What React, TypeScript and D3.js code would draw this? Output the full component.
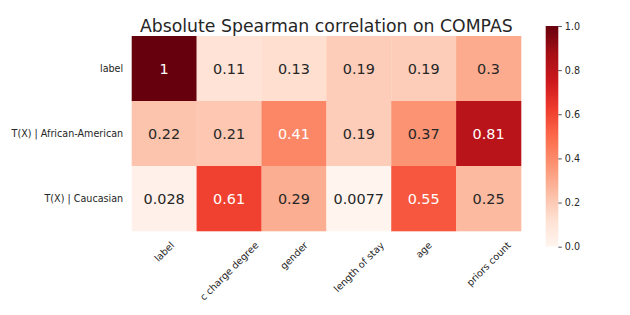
import React, { useEffect, useRef } from 'react';
import * as d3 from 'd3';

const rowLabels = ['label', 'T(X) | African-American', 'T(X) | Caucasian'];
const colLabels = ['label', 'c charge degree', 'gender', 'length of stay', 'age', 'priors count'];
const labelRow = [1, 0.11, 0.13, 0.19, 0.19, 0.3];
const africanAmericanRow = [0.22, 0.21, 0.41, 0.19, 0.37, 0.81];
const caucasianRow = [0.028, 0.61, 0.29, 0.0077, 0.55, 0.25];
const colorbarTicks = [0, 0.2, 0.4, 0.6, 0.8, 1.0];
const redsStops = ['#fff5f0', '#fee0d2', '#fcbba1', '#fc9272', '#fb6a4a', '#ef3b2c', '#cb181d', '#a50f15', '#67000d'];
const title = 'Absolute Spearman correlation on COMPAS';

const W = 630;
const H = 315;
const FONT = 'DejaVu Sans, sans-serif';
const TEXT = '#262626';

function luminance(c: string) {
  const rgb = d3.rgb(c);
  const f = (v: number) => {
    const s = v / 255;
    return s <= 0.03928 ? s / 12.92 : Math.pow((s + 0.055) / 1.055, 2.4);
  };
  return 0.2126 * f(rgb.r) + 0.7152 * f(rgb.g) + 0.0722 * f(rgb.b);
}

export default function App() {
  const ref = useRef<SVGSVGElement>(null);

  useEffect(() => {
    const svg = d3.select(ref.current);
    svg.selectAll('*').remove();
    const matrix = [labelRow, africanAmericanRow, caucasianRow];

    const left = 131.7, right = 521, top = 36, bottom = 231;
    const x = d3.scaleBand<string>().domain(colLabels).range([left, right]);
    const y = d3.scaleBand<string>().domain(rowLabels).range([top, bottom]);
    const color = d3
      .scaleLinear<string>()
      .domain(redsStops.map((_, i) => i / (redsStops.length - 1)))
      .range(redsStops)
      .interpolate(d3.interpolateRgb)
      .clamp(true);
    const fmt = d3.format('.2~g');

    const cells = matrix.flatMap((row, ri) =>
      row.map((v, ci) => ({ v, r: rowLabels[ri], c: colLabels[ci] }))
    );

    svg
      .append('g')
      .selectAll('rect')
      .data(cells)
      .join('rect')
      .attr('x', (d) => x(d.c)!)
      .attr('y', (d) => y(d.r)!)
      .attr('width', x.bandwidth() + 0.3)
      .attr('height', y.bandwidth() + 0.3)
      .attr('fill', (d) => color(d.v));

    svg
      .append('g')
      .selectAll('text')
      .data(cells)
      .join('text')
      .attr('x', (d) => x(d.c)! + x.bandwidth() / 2)
      .attr('y', (d) => y(d.r)! + y.bandwidth() / 2)
      .attr('text-anchor', 'middle')
      .attr('dominant-baseline', 'central')
      .attr('font-family', FONT)
      .attr('font-size', 14.4)
      .attr('fill', (d) => (luminance(color(d.v)) > 0.408 ? TEXT : '#ffffff'))
      .text((d) => fmt(d.v));

    // y tick labels
    svg
      .append('g')
      .selectAll('text')
      .data(rowLabels)
      .join('text')
      .attr('x', left - 8.5)
      .attr('y', (d) => y(d)! + y.bandwidth() / 2)
      .attr('text-anchor', 'end')
      .attr('dominant-baseline', 'central')
      .attr('font-family', FONT)
      .attr('font-size', 9.6)
      .attr('fill', TEXT)
      .text((d) => d);

    // x tick labels rotated 45, bbox centered on tick, top aligned
    const fs = 9.6;
    const h = fs * 1.16;
    const labelTop = bottom + 8.5;
    const xg = svg.append('g');
    colLabels.forEach((lab) => {
      const t = xg
        .append('text')
        .attr('font-family', FONT)
        .attr('font-size', fs)
        .attr('fill', TEXT)
        .attr('text-anchor', 'middle')
        .attr('dominant-baseline', 'central')
        .text(lab);
      const L = (t.node() as SVGTextElement).getComputedTextLength();
      const cx = x(lab)! + x.bandwidth() / 2;
      const cy = labelTop + (Math.SQRT1_2 * (L + h)) / 2;
      t.attr('transform', `translate(${cx},${cy}) rotate(-45)`);
    });

    // title
    svg
      .append('text')
      .attr('x', (left + right) / 2)
      .attr('y', 31.5)
      .attr('text-anchor', 'middle')
      .attr('font-family', FONT)
      .attr('font-size', 17.3)
      .attr('fill', TEXT)
      .text(title);

    // colorbar
    const cbX = 545.7, cbW = 12.6, cbTop = 26, cbBottom = 246.7;
    const defs = svg.append('defs');
    const grad = defs
      .append('linearGradient')
      .attr('id', 'cbgrad')
      .attr('x1', 0)
      .attr('y1', 1)
      .attr('x2', 0)
      .attr('y2', 0);
    redsStops.forEach((c, i) => {
      grad
        .append('stop')
        .attr('offset', `${(i / (redsStops.length - 1)) * 100}%`)
        .attr('stop-color', c);
    });
    svg
      .append('rect')
      .attr('x', cbX)
      .attr('y', cbTop)
      .attr('width', cbW)
      .attr('height', cbBottom - cbTop)
      .attr('fill', 'url(#cbgrad)');
    const cy = d3.scaleLinear().domain([0, 1]).range([cbBottom, cbTop]);
    const axis = d3
      .axisRight(cy)
      .tickValues(colorbarTicks)
      .tickFormat(d3.format('.1f') as any)
      .tickSize(3.5)
      .tickPadding(3);
    const ag = svg
      .append('g')
      .attr('transform', `translate(${cbX + cbW},0)`)
      .call(axis);
    ag.select('.domain').remove();
    ag.selectAll('line').attr('stroke', TEXT).attr('stroke-width', 0.8);
    ag.selectAll('text')
      .attr('font-family', FONT)
      .attr('font-size', 9.6)
      .attr('fill', TEXT);
  }, []);

  return (
    <svg
      ref={ref}
      width={W}
      height={H}
      style={{ position: 'absolute', left: 0, top: 0, background: '#ffffff' }}
    />
  );
}
